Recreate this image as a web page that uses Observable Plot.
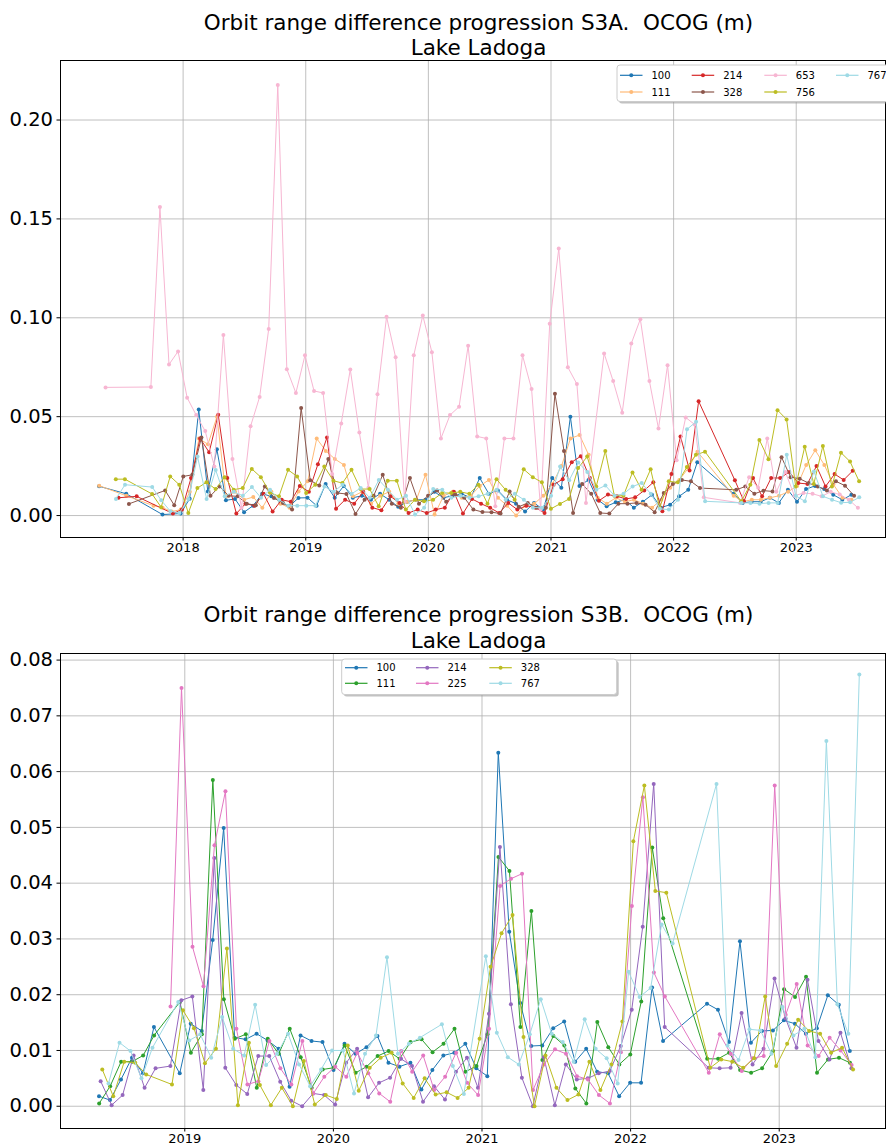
<!DOCTYPE html>
<html><head><meta charset="utf-8">
<script src="https://cdn.jsdelivr.net/npm/d3@7"></script>
<script src="https://cdn.jsdelivr.net/npm/@observablehq/plot@0.6"></script>
<style>
body{margin:0;background:#fff;font-family:"DejaVu Sans",sans-serif;}
#page{position:relative;width:886px;height:1145px;overflow:hidden;background:#fff;}
.title{position:absolute;left:66px;width:825px;text-align:center;font-size:21.5px;line-height:25px;color:#000;white-space:pre;font-family:"DejaVu Sans",sans-serif;}
.chart{position:absolute;left:0;}
.legend{position:absolute;left:0;top:0;}
</style>
</head><body><div id="page"></div>
<script>
// ---------------- S3A (top) ----------------
const titleA1 = "Orbit range difference progression S3A.  OCOG (m)";
const titleA2 = "Lake Ladoga";
const tracksA = ["100","111","214","328","653","756","767"];
const colorsA = ["#1f77b4","#ffbb78","#d62728","#8c564b","#f7b6d2","#bcbd22","#9edae5"];
const passOffsetDaysA = [3.5, 3.9, 7.5, 11.5, 22.9, 26.5, 26.9];
const cycleOriginA = 2017.970;   // start of 27-day cycle 0 (decimal year)
const cycleDays = 27;
const firstCycleA = -10;
const yearTicksA = [2018, 2019, 2020, 2021, 2022, 2023];
const yTicksA = [0.00, 0.05, 0.10, 0.15, 0.20];

const a100 = [null,0.0148,null,null,0.011,null,null,null,0.0005,null,
  0.001,0.0085,0.0536,0.0122,0.0335,0.0077,0.0084,0.0017,0.005,0.011,
  0.0097,0.007,0.0047,0.0089,0.009,0.005,0.016,0.009,0.015,0.009,
  0.010,0.008,0.011,0.008,0.0044,0.007,0.008,0.008,0.012,0.009,
  0.010,0.011,0.009,0.019,0.011,0.0127,0.008,0.006,0.002,0.0064,
  0.003,0.019,0.014,0.050,0.015,0.018,0.008,0.0047,0.0067,0.008,
  0.004,0.007,0.0105,0.004,0.0055,0.0097,0.013,0.027,null,null,
  null,0.011,0.0064,0.007,0.007,0.009,0.0064,0.013,0.007,0.0134,
  0.015,0.0134,0.0105,0.008,0.0105];
const a111 = [null,0.0151,null,null,0.010,null,null,0.005,0.004,0.002,
  0.003,0.012,0.039,0.036,0.050,0.0097,0.012,0.008,0.0094,0.0039,
  0.012,0.006,0.0039,0.0122,0.0173,0.0389,0.0327,0.0286,0.0256,0.0097,
  0.012,0.006,0.010,0.012,0.006,0.007,0.008,0.0206,0.0005,0.010,
  0.012,0.009,0.010,0.015,0.018,0.009,0.005,0.0,0.005,0.006,
  0.010,0.016,0.025,0.039,0.0407,0.0307,0.009,0.006,0.009,0.007,
  0.008,0.006,0.004,0.008,0.014,0.018,0.024,0.0323,null,null,
  null,0.010,0.007,0.008,0.008,0.009,0.010,0.012,0.015,0.0256,
  0.033,0.0256,0.0157,0.009,0.008];
const a214 = [null,null,null,0.009,null,0.0097,null,null,null,0.001,
  0.003,0.019,0.039,0.032,0.051,0.019,0.001,0.006,0.005,0.011,
  0.002,0.008,0.007,0.015,0.012,0.026,0.0395,0.0035,0.008,0.006,
  0.012,0.004,0.0027,0.0097,0.0064,0.0013,0.003,0.0013,0.003,0.004,
  0.012,0.001,0.0084,0.006,0.0039,0.0013,0.0064,0.003,0.005,0.004,
  0.0013,0.0156,0.0184,0.027,0.030,0.019,0.0075,0.0106,0.0097,0.0084,
  0.0092,0.0127,0.0168,0.0022,0.021,0.040,0.0228,0.0578,null,null,
  null,0.0178,0.0072,0.019,0.0097,0.019,0.019,0.022,0.0164,0.016,
  0.025,0.0147,0.021,0.018,0.0226];
const a328 = [null,null,null,null,0.0059,null,null,null,0.0127,0.0052,
  0.0198,0.0206,0.0395,0.010,0.0147,0.010,0.0097,0.006,0.0052,0.0147,
  0.0089,0.0064,0.003,0.0544,0.0178,0.0152,0.0286,0.0114,0.0109,0.0008,
  0.008,0.010,0.0206,0.006,0.004,0.019,0.006,0.010,0.0127,0.007,
  0.0106,0.009,0.003,0.0018,0.0017,0.001,0.0122,0.0044,0.0064,0.004,
  0.004,0.0616,0.0327,0.0013,0.016,0.011,0.0013,0.001,0.006,0.006,
  0.0064,0.0055,0.0017,0.0114,0.016,0.018,0.0173,0.0139,null,null,
  null,0.013,0.0147,0.011,0.0126,0.0122,0.0295,0.0194,0.0186,0.0164,
  0.0147,0.0127,0.0173,0.0151,0.010];
const a653 = [null,0.0648,null,null,null,null,0.065,0.156,0.0764,0.083,
  0.0596,0.0508,0.0427,0.0248,0.0913,0.0286,0.0039,0.0452,0.060,0.0943,
  0.2177,0.074,0.062,0.081,0.063,0.062,0.021,0.0466,0.0739,0.042,
  0.014,0.0613,0.1005,0.080,0.007,0.081,0.1012,0.0826,0.039,0.0508,
  0.055,0.0858,0.040,0.039,0.0047,0.039,0.039,0.081,0.064,0.003,
  0.097,0.135,0.075,0.0665,0.0064,null,0.082,0.068,0.052,0.087,
  0.0993,0.068,0.044,0.076,0.028,0.0496,0.046,0.0092,null,null,
  null,0.0064,0.0194,0.014,0.039,0.012,0.022,0.010,0.0114,0.011,
  0.0097,0.012,0.0106,0.008,0.0039];
const a756 = [null,null,0.0184,0.0184,null,null,0.0109,0.0042,0.0198,0.0156,
  0.0013,0.0139,0.0168,0.0134,0.0194,0.0131,0.0139,0.0236,0.0194,0.0117,
  0.0097,0.0231,0.0198,0.0114,0.0156,0.0248,0.0176,0.0164,0.0231,0.0134,
  0.0134,0.0047,0.0176,0.0176,0.003,0.008,0.0072,0.008,0.0114,0.0114,
  0.012,0.011,0.0156,0.006,0.0184,0.013,0.008,0.0234,0.0194,0.0168,
  0.0034,0.0059,0.0084,0.024,0.0298,0.0147,0.0327,0.010,0.010,0.0218,
  0.013,0.0234,0.0039,0.0173,0.0168,0.0245,0.0307,0.0323,null,null,
  null,0.0072,0.0156,0.0382,0.0285,0.0533,0.0486,0.0147,0.0348,0.016,
  0.0352,0.0147,0.0318,0.0273,0.0173];
const a767 = [null,null,0.0084,0.0156,null,null,0.0144,0.0077,0.0022,0.0013,
  0.0084,0.0298,0.0084,0.023,0.0097,0.012,0.010,0.0144,0.009,0.013,
  0.008,0.005,0.005,0.005,0.005,0.0147,0.012,0.0156,0.011,0.0139,
  0.009,0.018,0.013,0.008,0.010,0.0005,0.004,0.0134,0.013,0.009,
  0.010,0.009,0.0097,0.011,0.013,0.008,0.011,0.008,0.004,0.004,
  0.010,0.0248,0.0178,0.0268,0.022,0.013,0.0152,0.010,0.011,0.0147,
  0.0164,0.011,0.0034,0.003,0.008,0.0436,0.0474,0.0072,null,null,
  null,0.0064,0.0064,0.006,0.0064,0.0064,0.0307,0.010,0.0072,0.0223,
  0.0097,0.008,0.0065,0.0067,0.0092];
const valuesA = [a100, a111, a214, a328, a653, a756, a767];

// ---------------- S3B (bottom) ----------------
const titleB1 = "Orbit range difference progression S3B.  OCOG (m)";
const titleB2 = "Lake Ladoga";
const tracksB = ["100","111","214","225","328","767"];
const colorsB = ["#1f77b4","#2ca02c","#9467bd","#e377c2","#bcbd22","#9edae5"];
const passOffsetDaysB = [3.5, 3.9, 7.5, 7.9, 11.5, 26.9];
const cycleOriginB = 2018.9563;      // main-orbit cycle 0 start
const earlyOriginB = 2018.4132;      // tandem-phase cycle 0 start
const firstCycleB = -1;
const yearTicksB = [2019, 2020, 2021, 2022, 2023];
const yTicksB = [0.00, 0.01, 0.02, 0.03, 0.04, 0.05, 0.06, 0.07, 0.08];

const b100Early = [0.0018,0.0011,0.0048,0.0087,0.0059,0.0142];
const b111Early = [0.0005,0.0036,0.008,0.008,0.0091,0.0127];
const b214Early = [0.0045,0.0002,0.002,0.0091,0.0033,0.0068];
const b225Early = [null,null,null,null,null,null];
const b328Early = [0.0066,0.0018,0.008,0.0078,0.0057,null];
const b767Early = [0.0041,0.0114,0.0099,0.005,0.0105,null];

const b100 = [null,0.0059,0.0148,0.0135,0.0298,0.0499,0.0123,0.012,0.013,0.0118,
  0.0103,0.0035,0.0127,0.0117,0.0115,0.0065,0.0112,0.0094,0.0106,0.0126,
  0.0078,0.0071,0.0078,0.003,0.0065,0.0091,0.0096,0.0112,0.0068,0.0054,
  0.0634,0.0313,0.0185,0.0108,0.0109,0.014,0.0152,0.008,0.0103,0.0062,
  0.0059,0.0018,0.0042,0.0042,0.0213,0.0117,null,null,null,0.0184,
  0.0173,0.0115,0.0296,0.0114,0.0135,0.0136,0.0154,0.0148,0.013,0.014,
  0.0199,0.0182,0.0099];
const b111 = [null,0.0187,0.0096,0.0129,0.0585,0.0192,0.0121,0.0129,0.0033,0.0121,
  0.0094,0.0139,0.0088,0.0033,0.0066,0.0069,0.0109,0.006,0.0071,0.009,
  0.0099,0.0085,0.0115,0.012,0.0097,0.0112,0.0139,0.0062,0.0072,0.0129,
  0.0447,0.0422,0.0142,0.035,0.0083,0.0126,0.0109,0.0032,0.0005,0.0151,
  0.0106,0.0075,0.0093,0.0188,0.0464,0.0337,null,null,null,0.0085,
  0.0085,0.0096,0.0065,0.006,0.0068,0.0099,0.021,0.0196,0.0232,0.006,
  0.0084,0.0087,0.0078];
const b214 = [0.0072,0.019,0.0197,0.0029,0.0445,0.0069,0.0038,0.0022,0.009,0.009,
  0.0044,0.001,0.0,0.0023,0.002,0.0003,0.0078,0.0103,0.0016,0.0042,
  0.0051,0.0085,0.0072,0.0008,0.0036,0.0012,0.0062,0.0087,0.0033,0.0166,
  0.0465,0.0183,0.0051,0.0,0.0088,0.0002,0.0075,0.0048,0.005,0.0059,
  0.0063,0.0108,0.0173,0.0322,0.0578,0.0142,null,null,null,0.0069,
  0.0068,0.0069,0.0167,0.0075,0.0103,0.0229,0.0158,0.0105,0.0227,0.0117,
  0.0084,0.0132,0.0068];
const b225 = [0.0179,0.075,0.0286,0.0215,0.0468,0.0565,0.0139,0.0039,0.0045,0.0117,
  0.0068,0.0039,0.0117,0.0023,0.0053,0.0071,0.0053,0.0096,0.0059,0.0023,
  0.0008,0.0099,0.0062,0.0091,0.0029,0.0053,0.0096,0.0042,0.002,0.0139,
  0.0395,0.0408,0.0417,0.0029,0.0075,0.0102,0.0094,0.0054,0.0048,0.002,
  0.0005,0.0097,0.0359,0.0554,0.024,0.0197,null,null,null,0.006,
  0.0129,0.0094,0.0063,0.0086,0.009,0.0575,0.0164,0.0219,0.0109,0.009,
  0.0123,0.01,0.0074];
const b328 = [0.0039,0.0172,0.014,0.0077,0.0103,0.0283,0.0002,0.0114,0.0038,0.0002,
  0.0033,0.0,0.0081,0.0003,0.002,0.0013,0.0109,0.0028,0.0069,0.0087,
  0.0096,0.0041,0.0015,0.005,0.0021,0.0025,0.0015,0.0033,0.0121,0.025,
  0.031,0.0343,0.0124,0.0,0.0091,0.0033,0.0011,0.0021,0.008,0.0029,
  0.0075,0.0152,0.0475,0.0575,0.0386,0.0383,null,null,null,0.0069,
  0.0084,0.008,0.0069,0.0086,0.0197,0.0072,0.0112,0.0155,0.0135,0.013,
  0.0096,0.0105,0.0066];
const b767 = [0.0187,0.0118,0.0129,0.0087,0.016,0.0103,0.0091,0.0182,0.0074,0.0094,
  0.013,0.0075,0.0036,0.0066,0.01,0.01,0.0023,0.0094,0.0127,0.0267,
  0.0094,0.0112,0.0123,null,0.0147,0.0072,0.0022,null,0.0269,0.0132,
  0.0088,0.0075,0.0129,0.0192,0.013,0.0115,0.008,0.0156,0.0103,0.0086,
  0.0041,0.0241,0.0196,0.0212,0.0326,0.0292,null,null,null,0.0578,
  0.0109,0.0083,0.0138,0.0136,0.0094,0.0178,0.0127,0.0139,0.0088,0.0655,
  0.0183,0.013,0.0774];
const valuesB = [b100, b111, b214, b225, b328, b767];
const earlyB = [b100Early, b111Early, b214Early, b225Early, b328Early, b767Early];

// ---------------- build ----------------
function toPoints(vals, origin, firstCycle, offDays) {
  const pts = [];
  vals.forEach((v, i) => {
    if (v != null) pts.push({x: origin + (offDays + cycleDays * (firstCycle + i)) / 365.25, y: v});
  });
  return pts;
}

function makeChart(cfg) {
  const marks = [
    Plot.gridX(cfg.xticks, {stroke: "#b0b0b0", strokeOpacity: 1, strokeWidth: 0.8}),
    Plot.gridY(cfg.yticks, {stroke: "#b0b0b0", strokeOpacity: 1, strokeWidth: 0.8})
  ];
  cfg.series.forEach((pts, i) => {
    marks.push(Plot.line(pts, {x: "x", y: "y", stroke: cfg.colors[i], strokeWidth: 1}));
    marks.push(Plot.dot(pts, {x: "x", y: "y", fill: cfg.colors[i], r: 2, stroke: "none"}));
  });
  marks.push(Plot.frame({stroke: "#000", strokeWidth: 1}));
  marks.push(Plot.axisX(cfg.xticks, {tickFormat: d => String(d), tickSize: 3.5, tickPadding: 2, fontSize: 13, label: null}));
  marks.push(Plot.axisY(cfg.yticks, {tickFormat: cfg.yfmt, tickSize: 3.5, tickPadding: 4, fontSize: 19.5, label: null}));
  const svg = Plot.plot({
    width: 886, height: cfg.height,
    marginLeft: 60, marginRight: 1, marginTop: cfg.marginTop, marginBottom: cfg.marginBottom,
    x: {domain: cfg.xdomain},
    y: {domain: cfg.ydomain},
    style: {fontFamily: "'DejaVu Sans', sans-serif", background: "white", color: "#000", overflow: "visible"},
    marks
  });
  svg.classList.add("chart");
  svg.style.top = cfg.top + "px";
  return svg;
}

const page = document.getElementById("page");

function addTitle(text, top) {
  const d = document.createElement("div");
  d.className = "title";
  d.style.top = top + "px";
  d.textContent = text;
  page.appendChild(d);
}

const seriesA = valuesA.map((v, i) => toPoints(v, cycleOriginA, firstCycleA, passOffsetDaysA[i]));
page.appendChild(makeChart({
  top: 0, height: 570, marginTop: 60, marginBottom: 33,
  xdomain: [2017.0, 2023.728], ydomain: [-0.0111, 0.2301],
  xticks: yearTicksA, yticks: yTicksA, yfmt: d3.format(".2f"),
  series: seriesA, colors: colorsA
}));

const seriesB = valuesB.map((v, i) =>
  toPoints(earlyB[i], earlyOriginB, 0, passOffsetDaysB[i]).concat(
  toPoints(v, cycleOriginB, firstCycleB, passOffsetDaysB[i])));
page.appendChild(makeChart({
  top: 593, height: 552, marginTop: 60, marginBottom: 17,
  xdomain: [2018.1636, 2023.7153], ydomain: [-0.00399, 0.08118],
  xticks: yearTicksB, yticks: yTicksB, yfmt: d3.format(".2f"),
  series: seriesB, colors: colorsB
}));

addTitle(titleA1, 10);
addTitle(titleA2, 35);
addTitle(titleB1, 602);
addTitle(titleB2, 628);

// ---------------- legends ----------------
const lsvg = d3.select(page).append("svg").attr("class", "legend")
  .attr("width", 886).attr("height", 1145).style("position", "absolute").style("font-family", "'DejaVu Sans', sans-serif");

function legend(labels, colors, box, colX, rowsY) {
  const g = lsvg.append("g");
  g.append("rect").attr("x", box[0] + 2).attr("y", box[1] + 2).attr("width", box[2]).attr("height", box[3])
    .attr("rx", 3).attr("fill", "#999").attr("fill-opacity", 0.6);
  g.append("rect").attr("x", box[0]).attr("y", box[1]).attr("width", box[2]).attr("height", box[3])
    .attr("rx", 3).attr("fill", "#fff").attr("stroke", "#cccccc").attr("stroke-width", 1);
  labels.forEach((lab, i) => {
    const c = Math.floor(i / 2), r = i % 2;
    const x0 = colX[c], y0 = rowsY[r];
    g.append("line").attr("x1", x0).attr("x2", x0 + 22.5).attr("y1", y0).attr("y2", y0)
      .attr("stroke", colors[i]).attr("stroke-width", 1.2);
    g.append("circle").attr("cx", x0 + 11.25).attr("cy", y0).attr("r", 2).attr("fill", colors[i]);
    g.append("text").attr("x", x0 + 31.5).attr("y", y0).attr("dominant-baseline", "central")
      .attr("font-size", 10).attr("fill", "#000").text(lab);
  });
}
legend(tracksA, colorsA, [617, 65, 290, 36.5], [620, 691.7, 764.3, 836], [75.3, 92]);
legend(tracksB, colorsB, [341.7, 659, 275, 35.5], [345, 416, 489.3, 561], [667.7, 683.3]);
</script>
</body></html>
